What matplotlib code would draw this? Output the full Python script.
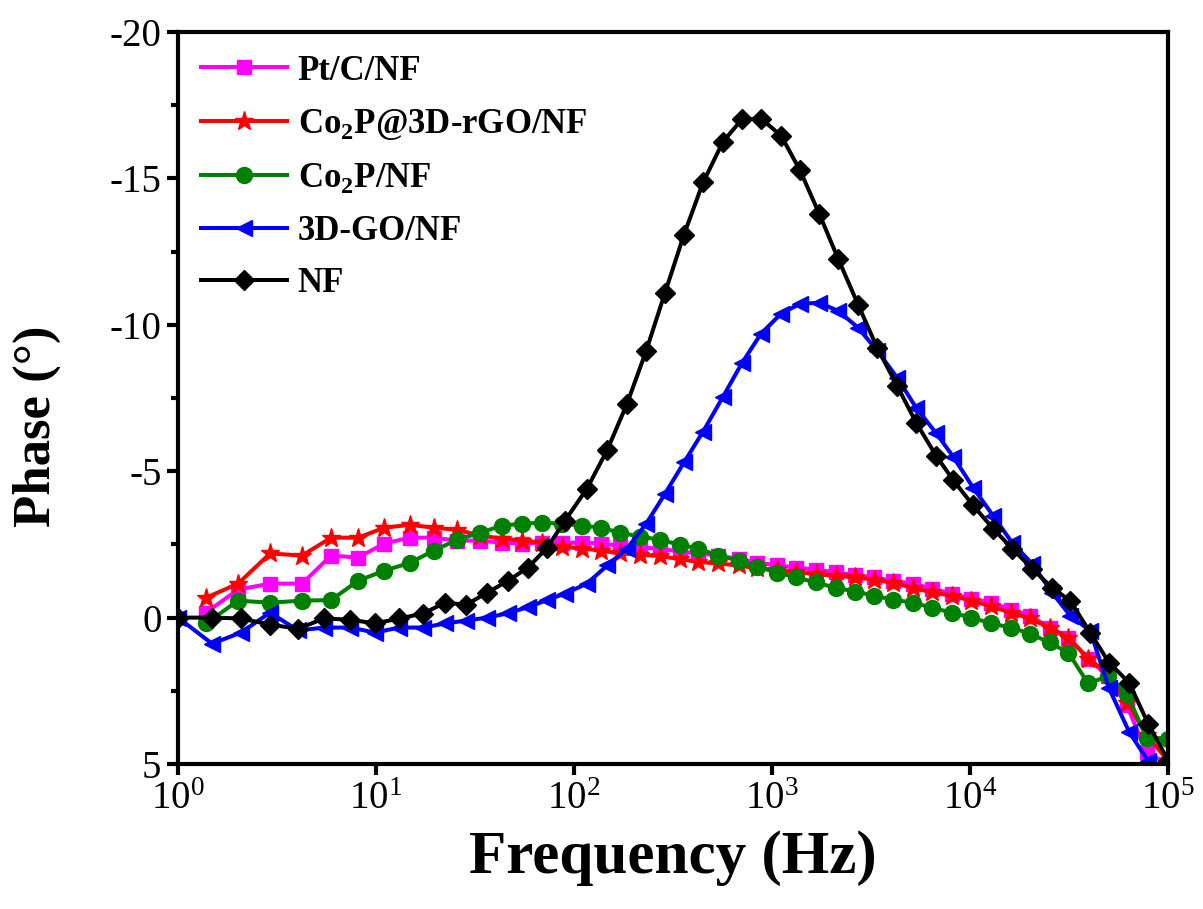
import matplotlib
matplotlib.use("Agg")
import matplotlib.pyplot as plt
from matplotlib.ticker import LogLocator, LogFormatterMathtext, NullLocator, MultipleLocator

plt.rcParams['font.family'] = ['Liberation Serif', 'DejaVu Serif']
plt.rcParams['mathtext.fontset'] = 'custom'
plt.rcParams['mathtext.rm'] = 'Liberation Serif'
plt.rcParams['mathtext.bf'] = 'Liberation Serif:bold'
plt.rcParams['axes.unicode_minus'] = False

# frequencies (Hz); two slightly different sweeps
freq_a = [1.385, 2.01, 2.915, 4.23, 5.93, 8.11, 11.0, 14.8, 19.6, 25.7, 33.5, 43.3,
          54.6, 68.9, 87.0, 109.6, 137, 170, 215, 271, 341, 422, 532, 678, 842,
          1062, 1325, 1662, 2093, 2637, 3282, 4085, 5144, 6403, 8061, 10150,
          12778, 16090, 20030, 25186, 31350, 39467, 49700, 61900, 77800, 100000]
freq_b = [1.0, 1.485, 2.08, 2.915, 4.04, 5.46, 7.39, 9.88, 13.1, 17.3, 22.3, 28.5,
          36.4, 46.4, 58.6, 73.1, 90.0, 116, 147, 185, 231, 288, 359, 448, 566,
          705, 880, 1110, 1385, 1728, 2154, 2719, 3391, 4278, 5337, 6734, 8207,
          10356, 13067, 16298, 20566, 25950, 32000, 40384, 50350, 63530, 79250, 100000]

ptc = [-0.17, -0.96, -1.16, -1.16, -2.12, -2.05, -2.53, -2.73, -2.73, -2.63, -2.63,
       -2.56, -2.53, -2.56, -2.56, -2.56, -2.53, -2.46, -2.39, -2.36, -2.25, -2.2,
       -2.12, -2.0, -1.88, -1.78, -1.71, -1.64, -1.55, -1.45, -1.37, -1.25, -1.16,
       -0.99, -0.82, -0.65, -0.51, -0.27, -0.07, 0.34, 0.68, 1.4, 2.0, 3.0, 4.6, 5.0]
co2p_rgo = [-0.68, -1.16, -2.19, -2.12, -2.73, -2.73, -3.07, -3.17, -3.07, -3.0, -2.8,
            -2.7, -2.63, -2.56, -2.42, -2.36, -2.29, -2.19, -2.15, -2.1, -2.0, -1.9,
            -1.85, -1.78, -1.68, -1.62, -1.55, -1.48, -1.43, -1.37, -1.3, -1.18, -1.02,
            -0.86, -0.75, -0.58, -0.38, -0.17, 0.03, 0.34, 0.68, 1.4, 1.9, 2.9, 4.0, 4.9]
co2p = [0.2, -0.58, -0.51, -0.58, -0.6, -1.26, -1.6, -1.87, -2.29, -2.66, -2.9, -3.14,
        -3.21, -3.24, -3.21, -3.14, -3.07, -2.9, -2.77, -2.66, -2.49, -2.36, -2.12,
        -1.95, -1.74, -1.54, -1.37, -1.2, -1.02, -0.89, -0.75, -0.61, -0.51, -0.34,
        -0.17, 0.0, 0.2, 0.34, 0.55, 0.85, 1.2, 2.25, 2.0, 2.6, 4.1, 4.13]
go3d = [0.0, 0.89, 0.51, -0.17, 0.44, 0.34, 0.34, 0.51, 0.34, 0.34, 0.2, 0.1, 0.0,
        -0.15, -0.36, -0.6, -0.82, -1.16, -1.78, -2.36, -3.2, -4.23, -5.3, -6.35,
        -7.55, -8.7, -9.7, -10.38, -10.72, -10.75, -10.48, -9.9, -9.12, -8.2, -7.17,
        -6.3, -5.5, -4.44, -3.48, -2.56, -1.84, -0.85, -0.07, 0.45, 2.42, 3.9, 4.9]
nf = [0.0, 0.0, 0.03, 0.24, 0.38, 0.03, 0.07, 0.2, 0.03, -0.14, -0.51, -0.44, -0.85,
      -1.26, -1.71, -2.39, -3.31, -4.4, -5.72, -7.3, -9.1, -11.1, -13.08, -14.86,
      -16.26, -17.02, -17.04, -16.46, -15.27, -13.8, -12.26, -10.69, -9.22, -7.92,
      -6.66, -5.53, -4.7, -3.83, -3.04, -2.36, -1.67, -1.02, -0.58, 0.51, 1.54,
      2.22, 3.62, 4.88]

fig = plt.figure(figsize=(12.03, 9.09), dpi=100)
ax = fig.add_axes([0.148, 0.1595, 0.823, 0.8053])

lw = 2.9
ax.plot(freq_a, ptc, color='#FF00FF', marker='s', ms=10, lw=lw, label='Pt/C/NF')
ax.plot(freq_a, co2p_rgo, color='#FF0000', marker='*', ms=14, lw=lw,
        label=r'Co$_\mathbf{2}$P@3D-rGO/NF')
ax.plot(freq_a, co2p, color='#008000', marker='o', ms=11.5, lw=lw,
        label=r'Co$_\mathbf{2}$P/NF')
ax.plot(freq_b[:len(go3d)], go3d, color='#0000FF', marker='<', ms=12, lw=lw,
        label='3D-GO/NF')
ax.plot(freq_b, nf, color='black', marker='D', ms=10, lw=lw, label='NF')

ax.set_xscale('log')
ax.set_xlim(1, 1e5)
ax.set_ylim(5, -20)
ax.xaxis.set_major_locator(LogLocator(base=10, numticks=10))
ax.xaxis.set_major_formatter(LogFormatterMathtext())
ax.xaxis.set_minor_locator(NullLocator())
ax.yaxis.set_major_locator(MultipleLocator(5))
ax.yaxis.set_minor_locator(MultipleLocator(2.5))

for s in ax.spines.values():
    s.set_linewidth(3)
ax.tick_params(which='major', direction='out', length=8, width=3, labelsize=28, pad=4)
ax.tick_params(which='minor', direction='out', length=5, width=3)
ax.tick_params(axis='both', top=False, right=False)

ax.set_xlabel('Frequency (Hz)', fontsize=44, fontweight='bold', labelpad=9)
ax.set_ylabel('Phase (°)', fontsize=38, fontweight='bold')
ax.yaxis.set_label_coords(-0.118, 0.462)

leg = ax.legend(loc='upper left', frameon=False, handlelength=2.5,
                handletextpad=0.3, labelspacing=0.56, borderaxespad=0.25,
                prop={'weight': 'bold', 'size': 25})

fig.savefig('out.png', dpi=100)
